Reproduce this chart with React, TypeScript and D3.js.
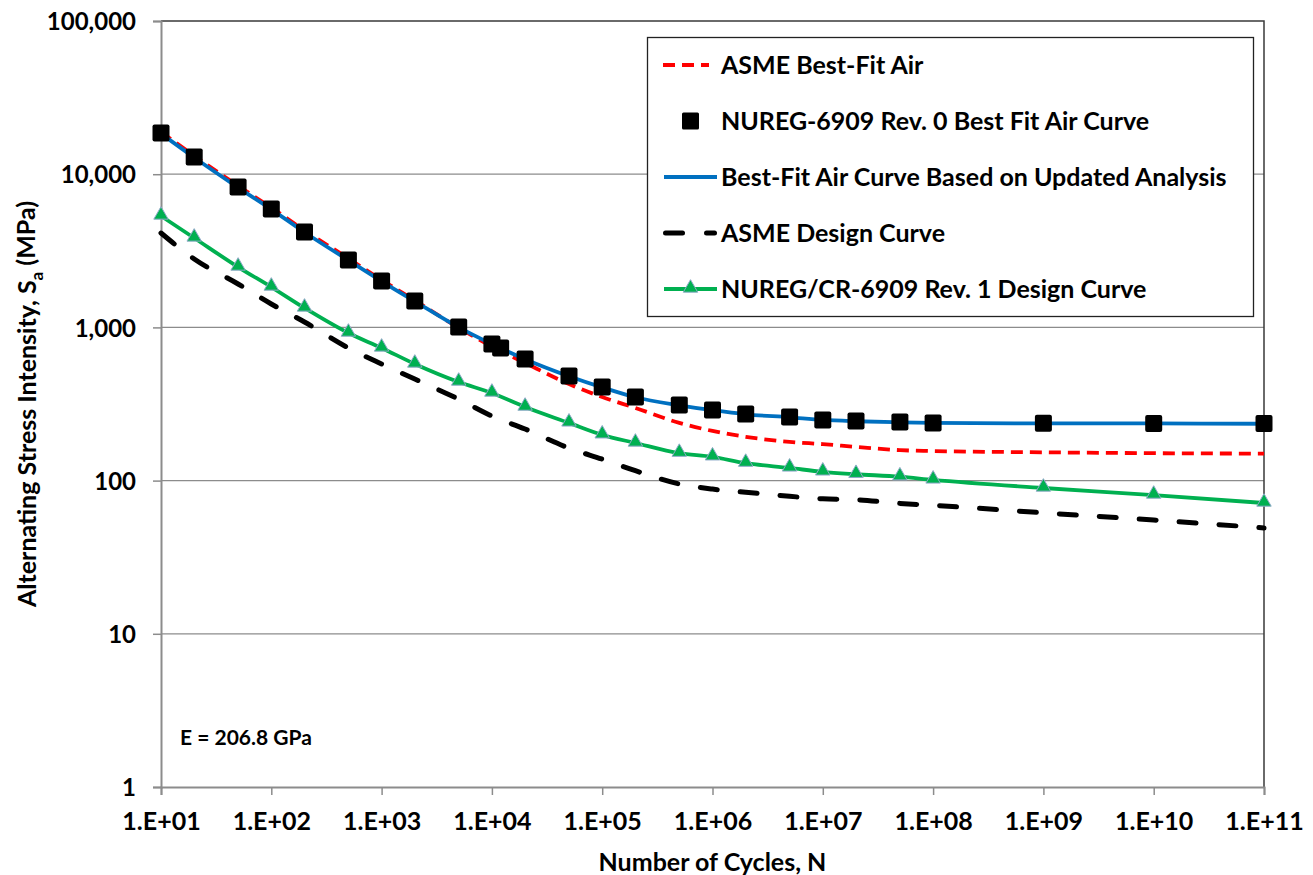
import { useEffect, useRef } from "react";
import * as d3 from "d3";

// cycles, N
const cyclesSquares = [10, 20, 50, 100, 200, 500, 1e3, 2e3, 5e3, 1e4, 1.2e4, 2e4, 5e4, 1e5, 2e5, 5e5, 1e6, 2e6, 5e6, 1e7, 2e7, 5e7, 1e8, 1e9, 1e10, 1e11];
const cyclesCurves = [10, 20, 50, 100, 200, 500, 1e3, 2e3, 5e3, 1e4, 2e4, 5e4, 1e5, 2e5, 5e5, 1e6, 2e6, 5e6, 1e7, 2e7, 5e7, 1e8, 1e9, 1e10, 1e11];

// stress amplitude, MPa
const nureg0Stress = [18600, 12950, 8250, 5930, 4200, 2750, 2010, 1487, 1006, 779, 734, 622, 482, 408, 351, 311, 289, 272, 260, 249, 245, 241, 238, 237, 236, 236];
const updatedFitStress = [18400, 12850, 8180, 5900, 4180, 2740, 2000, 1480, 1000, 778, 620, 480, 406, 350, 310, 288, 271, 259, 249, 244, 240, 238, 236, 236, 235];
const asmeFitStress = [18900, 13200, 8400, 6050, 4300, 2820, 2040, 1500, 995, 750, 586, 427, 351, 298, 238, 211, 193, 179, 173, 166, 158, 156, 153, 151, 150];
const asmeDesignStress = [4130, 2795, 1920, 1422, 1084, 734, 577, 460, 340, 264, 217, 163, 138, 116, 95, 88, 84, 79, 76, 75, 71, 69, 61.6, 55.3, 49.1];
const nureg1DesignStress = [5335, 3835, 2478, 1835, 1339, 919, 734, 577, 440, 373, 302, 238, 199, 176, 151, 143, 130, 121, 114, 110, 106, 101, 89.5, 80.5, 71.4];

const xTicks = [1e1, 1e2, 1e3, 1e4, 1e5, 1e6, 1e7, 1e8, 1e9, 1e10, 1e11];
const yTicks = [1, 10, 100, 1000, 10000, 100000];

const legendLabels = [
  "ASME Best-Fit Air",
  "NUREG-6909 Rev. 0 Best Fit Air Curve",
  "Best-Fit Air Curve Based on Updated Analysis",
  "ASME Design Curve",
  "NUREG/CR-6909 Rev. 1 Design Curve",
];

const FONT = "Lato, 'Open Sans', sans-serif";

export default function App() {
  const ref = useRef<SVGSVGElement>(null);

  useEffect(() => {
    const svg = d3.select(ref.current);
    svg.selectAll("*").remove();

    const width = 1313;
    const height = 875;
    const margin = { top: 21, right: 49, bottom: 88, left: 161 };

    const x = d3.scaleLog().domain([1e1, 1e11]).range([margin.left, width - margin.right]);
    const y = d3.scaleLog().domain([1, 1e5]).range([height - margin.bottom, margin.top]);

    const x0 = margin.left, x1 = width - margin.right;
    const y0 = height - margin.bottom, y1 = margin.top;

    svg.append("rect").attr("width", width).attr("height", height).attr("fill", "#fff");

    // gridlines
    svg.append("g")
      .selectAll("line")
      .data(yTicks.slice(1, -1))
      .join("line")
      .attr("x1", x0).attr("x2", x1)
      .attr("y1", d => y(d)).attr("y2", d => y(d))
      .attr("stroke", "#8c8c8c").attr("stroke-width", 1.3);

    // plot frame (top, right)
    svg.append("path")
      .attr("d", `M${x0},${y1}H${x1}V${y0}`)
      .attr("fill", "none").attr("stroke", "#3a3a3a").attr("stroke-width", 1.5);

    // axes
    const xAxis = svg.append("g")
      .attr("transform", `translate(0,${y0})`)
      .call(d3.axisBottom(x).tickValues(xTicks).tickSize(8).tickFormat(d => {
        const e = Math.round(Math.log10(+d));
        return `1.E+${String(e).padStart(2, "0")}`;
      }));
    xAxis.select(".domain").attr("stroke", "#8c8c8c").attr("stroke-width", 2);
    xAxis.selectAll(".tick line").attr("stroke", "#8c8c8c").attr("stroke-width", 1.5);
    xAxis.selectAll(".tick text")
      .attr("font-family", FONT).attr("font-weight", "bold").attr("font-size", 25)
      .attr("fill", "#000").attr("dy", 0).attr("y", 43);

    const yAxis = svg.append("g")
      .attr("transform", `translate(${x0},0)`)
      .call(d3.axisLeft(y).tickValues(yTicks).tickSize(8).tickFormat(d3.format(",")));
    yAxis.select(".domain").attr("stroke", "#8c8c8c").attr("stroke-width", 2);
    yAxis.selectAll(".tick line").attr("stroke", "#8c8c8c").attr("stroke-width", 1.5);
    yAxis.selectAll(".tick text")
      .attr("font-family", FONT).attr("font-weight", "bold").attr("font-size", 24)
      .attr("fill", "#000").attr("x", -25).attr("dy", "0.36em");

    const line = (xs: number[], ys: number[]) =>
      d3.line<number>()
        .x((_, i) => x(xs[i]))
        .y(d => y(d))
        .curve(d3.curveMonotoneX)(ys);

    // ASME design curve
    svg.append("path")
      .attr("d", line(cyclesCurves, asmeDesignStress))
      .attr("fill", "none").attr("stroke", "#000").attr("stroke-width", 5)
      .attr("stroke-dasharray", "17,23").attr("stroke-linecap", "round");

    // NUREG Rev 1 design curve
    svg.append("path")
      .attr("d", line(cyclesCurves, nureg1DesignStress))
      .attr("fill", "none").attr("stroke", "#00b050").attr("stroke-width", 3.8);

    // ASME best-fit air
    svg.append("path")
      .attr("d", line(cyclesCurves, asmeFitStress))
      .attr("fill", "none").attr("stroke", "#ff0000").attr("stroke-width", 3.8)
      .attr("stroke-dasharray", "12,7");

    // updated best-fit
    svg.append("path")
      .attr("d", line(cyclesCurves, updatedFitStress))
      .attr("fill", "none").attr("stroke", "#0070c0").attr("stroke-width", 3.8);

    const tri = d3.symbol().type(d3.symbolTriangle).size(90);

    svg.append("g")
      .selectAll("path")
      .data(nureg1DesignStress)
      .join("path")
      .attr("d", tri)
      .attr("transform", (d, i) => `translate(${x(cyclesCurves[i])},${y(d) - 1})`)
      .attr("fill", "#00b050").attr("stroke", "#8ea9c8").attr("stroke-width", 1);

    svg.append("g")
      .selectAll("rect")
      .data(nureg0Stress)
      .join("rect")
      .attr("x", (_, i) => x(cyclesSquares[i]) - 8.5)
      .attr("y", d => y(d) - 8.5)
      .attr("width", 17).attr("height", 17).attr("rx", 2)
      .attr("fill", "#000");

    // legend
    const lg = svg.append("g");
    lg.append("rect")
      .attr("x", 647.5).attr("y", 37.5).attr("width", 606).attr("height", 279)
      .attr("fill", "#fff").attr("stroke", "#222").attr("stroke-width", 1.3);

    const rowY = d3.scalePoint<string>().domain(legendLabels).range([65, 289]);

    legendLabels.forEach((label, i) => {
      const cy = rowY(label)!;
      const g = lg.append("g");
      if (i === 0) {
        g.append("line").attr("x1", 663).attr("x2", 709).attr("y1", cy).attr("y2", cy)
          .attr("stroke", "#ff0000").attr("stroke-width", 3.8).attr("stroke-dasharray", "12,7");
      } else if (i === 1) {
        g.append("rect").attr("x", 682).attr("y", cy - 8.5).attr("width", 17).attr("height", 17)
          .attr("rx", 1.5).attr("fill", "#000");
      } else if (i === 2) {
        g.append("line").attr("x1", 664).attr("x2", 717).attr("y1", cy).attr("y2", cy)
          .attr("stroke", "#0070c0").attr("stroke-width", 3.8);
      } else if (i === 3) {
        g.append("line").attr("x1", 665.5).attr("x2", 682.5).attr("y1", cy).attr("y2", cy)
          .attr("stroke", "#000").attr("stroke-width", 5).attr("stroke-linecap", "round");
        g.append("line").attr("x1", 706.5).attr("x2", 714.5).attr("y1", cy).attr("y2", cy)
          .attr("stroke", "#000").attr("stroke-width", 5).attr("stroke-linecap", "round");
      } else {
        g.append("line").attr("x1", 664).attr("x2", 717).attr("y1", cy).attr("y2", cy)
          .attr("stroke", "#00b050").attr("stroke-width", 3.8);
        g.append("path").attr("d", tri).attr("transform", `translate(690.5,${cy - 1})`)
          .attr("fill", "#00b050").attr("stroke", "#8ea9c8").attr("stroke-width", 1);
      }
      g.append("text")
        .attr("x", 721).attr("y", cy).attr("dy", "0.35em")
        .attr("font-family", FONT).attr("font-weight", "bold").attr("font-size", 25)
        .text(label);
    });

    // annotation
    svg.append("text")
      .attr("x", 180).attr("y", 738).attr("dy", "0.35em")
      .attr("font-family", FONT).attr("font-weight", "bold").attr("font-size", 21)
      .text("E = 206.8 GPa");

    // axis titles
    svg.append("text")
      .attr("x", (x0 + x1) / 2).attr("y", 862).attr("dy", "0.35em")
      .attr("text-anchor", "middle")
      .attr("font-family", FONT).attr("font-weight", "bold").attr("font-size", 25)
      .text("Number of Cycles, N");

    const yt = svg.append("text")
      .attr("transform", `translate(27,${(y0 + y1) / 2}) rotate(-90)`)
      .attr("text-anchor", "middle").attr("dy", "0.35em")
      .attr("font-family", FONT).attr("font-weight", "bold").attr("font-size", 25);
    yt.append("tspan").text("Alternating Stress Intensity, S");
    yt.append("tspan").attr("font-size", 17).attr("dy", "0.4em").text("a");
    yt.append("tspan").attr("dy", "-0.3em").text(" (MPa)");
  }, []);

  return (
    <div style={{ position: "absolute", left: 0, top: 0 }}>
      <svg ref={ref} width={1313} height={875} style={{ display: "block" }}></svg>
    </div>
  );
}
